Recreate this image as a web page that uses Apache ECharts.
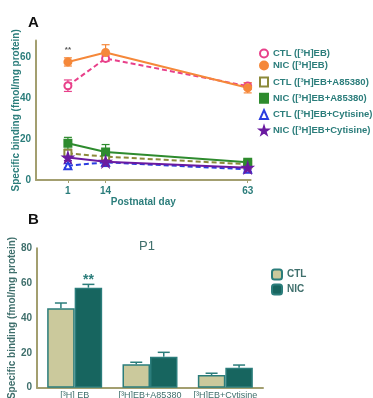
<!DOCTYPE html>
<html>
<head>
<meta charset="utf-8">
<script src="https://cdn.jsdelivr.net/npm/echarts@6/dist/echarts.min.js"></script>
<style>
  html, body { margin: 0; padding: 0; background: #fff; }
  #chart { width: 373px; height: 398px; }
</style>
</head>
<body>
<div id="chart"></div>
<script>
// panel A: binding by postnatal day
var days = [1, 14, 63];
var ctlEB = [46, 59.3, 45.8];
var ctlEBErr = [2.8, 1.5, 1.5];
var nicEB = [57.6, 62.2, 45];
var nicEBErr = [2, 3.8, 2.5];
var ctlA85 = [13, 11.4, 7.7];
var ctlA85Err = [1.5, 1.5, 1];
var nicA85 = [17.9, 13.7, 8.6];
var nicA85Err = [2.9, 3.6, 1];
var ctlCyt = [7, 8.6, 5.2];
var ctlCytErr = [1, 2, 1];
var nicCyt = [11, 8.9, 6];
var nicCytErr = [1.5, 2, 1];

// panel B: P1 bars
var groups = ['[³H] EB', '[³H]EB+A85380', '[³H]EB+Cytisine'];
var ctlP1 = [45.6, 13.4, 7.3];
var ctlP1Err = [3, 1.2, 1];
var nicP1 = [57.4, 17.8, 11.5];
var nicP1Err = [1.9, 2.5, 1.5];

var teal = '#2b7d7b';
var axisCol = '#a39f70';
var star = 'path://M50,0 L61,35 L98,35 L68,57 L79,91 L50,70 L21,91 L32,57 L2,35 L39,35 Z';

function pairs(xs, ys, es) {
    var out = [];
    for (var i = 0; i < xs.length; i++) out.push([xs[i], ys[i], es[i]]);
    return out;
}

function errA(color) {
    return function (params, api) {
        var x = api.value(0), y = api.value(1), e = api.value(2);
        var hi = api.coord([x, y + e]), lo = api.coord([x, y - e]);
        var st = { stroke: color, lineWidth: 1.2 };
        return {
            type: 'group', children: [
                { type: 'line', shape: { x1: hi[0], y1: hi[1], x2: lo[0], y2: lo[1] }, style: st },
                { type: 'line', shape: { x1: hi[0] - 4, y1: hi[1], x2: hi[0] + 4, y2: hi[1] }, style: st },
                { type: 'line', shape: { x1: lo[0] - 4, y1: lo[1], x2: lo[0] + 4, y2: lo[1] }, style: st }
            ]
        };
    };
}

function errB(side) {
    return function (params, api) {
        var i = api.value(0), y = api.value(1), e = api.value(2);
        var band = api.size([1, 0])[0];
        var off = side * band * 0.365 / 2;
        var top = api.coord([i, y + e]), base = api.coord([i, y]);
        var cx = top[0] + off;
        var st = { stroke: teal, lineWidth: 1.5 };
        return {
            type: 'group', children: [
                { type: 'line', shape: { x1: cx, y1: base[1], x2: cx, y2: top[1] }, style: st },
                { type: 'line', shape: { x1: cx - 6, y1: top[1], x2: cx + 6, y2: top[1] }, style: st }
            ]
        };
    };
}

function lineSeries(name, ys, color, symbol, dashed) {
    return {
        name: name, type: 'line', xAxisIndex: 0, yAxisIndex: 0,
        data: pairs(days, ys, ys),
        symbol: symbol, symbolSize: symbol === star ? 9 : 7,
        lineStyle: { color: color, width: 2, type: dashed ? [5, 3] : 'solid' },
        itemStyle: { color: color, borderColor: color, borderWidth: 2 },
        z: 3
    };
}

function errSeries(ys, es, color) {
    return {
        type: 'custom', xAxisIndex: 0, yAxisIndex: 0,
        data: pairs(days, ys, es), renderItem: errA(color), z: 2, silent: true
    };
}

var legendText = { color: teal, fontSize: 9.5, fontWeight: 'bold', fontFamily: 'Liberation Sans' };

var myChart = echarts.init(document.getElementById('chart'));

var nicEBSeries = lineSeries('NIC ([³H]EB)', nicEB, '#f5883a', 'circle', false);
nicEBSeries.data = nicEB.map(function (v, i) {
    var d = { value: [days[i], v] };
    if (i === 0) d.label = { show: true, position: 'top', distance: 4, formatter: '**', color: '#555', fontSize: 8, fontWeight: 'bold' };
    return d;
});

var nicP1Data = nicP1.map(function (v, i) {
    var d = { value: v };
    if (i === 0) d.label = { show: true, position: 'top', distance: 1, formatter: '**', color: teal, fontSize: 14, fontWeight: 'bold' };
    return d;
});

var option = {
    animation: false,
    textStyle: { fontFamily: 'Liberation Sans' },
    title: [
        { text: 'A', left: 23, top: 10, textStyle: { fontSize: 15, fontWeight: 'bold', color: '#111' } },
        { text: 'B', left: 23, top: 207, textStyle: { fontSize: 15, fontWeight: 'bold', color: '#111' } },
        { text: 'P1', left: 134, top: 235, textStyle: { fontSize: 13, fontWeight: 'normal', color: '#3f6f6c' } }
    ],
    legend: [
        {
            left: 259, top: 48.5, padding: 0, orient: 'vertical', itemGap: 2, itemWidth: 8, itemHeight: 8,
            textStyle: legendText,
            data: [
                { name: 'CTL ([³H]EB)', icon: 'emptyCircle' },
                { name: 'NIC ([³H]EB)', icon: 'circle' }
            ]
        },
        {
            left: 259, top: 76.5, padding: 0, orient: 'vertical', itemGap: 5.3, itemWidth: 8, itemHeight: 9,
            textStyle: legendText,
            data: [
                { name: 'CTL ([³H]EB+A85380)', icon: 'emptyRect' },
                { name: 'NIC ([³H]EB+A85380)', icon: 'rect' },
                { name: 'CTL ([³H]EB+Cytisine)', icon: 'emptyTriangle' },
                { name: 'NIC ([³H]EB+Cytisine)', icon: star }
            ]
        },
        {
            left: 271, top: 268.5, padding: 0, orient: 'vertical', itemGap: 3, itemWidth: 10, itemHeight: 10,
            textStyle: { color: '#3f6f6c', fontSize: 10, fontWeight: 'bold' },
            data: ['CTL', 'NIC']
        }
    ],
    grid: [
        { left: 36, top: 40.6, width: 214.6, height: 139.4, outerBoundsMode: 'none', containLabel: false },
        { left: 37, top: 248.3, width: 226, height: 139.4, outerBoundsMode: 'none', containLabel: false }
    ],
    xAxis: [
        {
            type: 'value', gridIndex: 0, min: -10, max: 64,
            name: 'Postnatal day', nameLocation: 'middle', nameGap: 17, nameMoveOverlap: false,
            nameTextStyle: { color: teal, fontSize: 10, fontWeight: 'bold' },
            axisLine: { onZero: false, lineStyle: { color: axisCol, width: 2 } },
            axisTick: { customValues: days, length: 3, lineStyle: { color: axisCol } },
            axisLabel: { customValues: days, color: teal, fontSize: 10, fontWeight: 'bold', margin: 6 },
            splitLine: { show: false }
        },
        {
            type: 'category', gridIndex: 1, data: groups,
            axisLine: { lineStyle: { color: axisCol, width: 2 } },
            axisTick: { show: false },
            axisLabel: { color: '#3f6f6c', fontSize: 9, margin: 3, interval: 0 }
        }
    ],
    yAxis: [
        {
            type: 'value', gridIndex: 0, min: 0, max: 68, interval: 20,
            name: 'Specific binding (fmol/mg protein)', nameLocation: 'middle', nameGap: 15, nameMoveOverlap: false,
            nameTextStyle: { color: teal, fontSize: 10, fontWeight: 'bold' },
            axisLine: { show: true, onZero: false, lineStyle: { color: axisCol, width: 2 } },
            axisTick: { show: false },
            axisLabel: { color: teal, fontSize: 10, fontWeight: 'bold', margin: 5, showMaxLabel: false },
            splitLine: { show: false }
        },
        {
            type: 'value', gridIndex: 1, min: 0, max: 80, interval: 20,
            name: 'Specific binding (fmol/mg protein)', nameLocation: 'middle', nameGap: 20, nameMoveOverlap: false,
            nameTextStyle: { color: '#3f6f6c', fontSize: 10, fontWeight: 'bold' },
            axisLine: { show: true, onZero: false, lineStyle: { color: axisCol, width: 2 } },
            axisTick: { show: false },
            axisLabel: { color: '#3f6f6c', fontSize: 10, fontWeight: 'bold', margin: 5 },
            splitLine: { show: false }
        }
    ],
    series: [
        errSeries(ctlEB, ctlEBErr, '#e8408a'),
        errSeries(nicEB, nicEBErr, '#f5883a'),
        errSeries(ctlA85, ctlA85Err, '#8c8a3a'),
        errSeries(nicA85, nicA85Err, '#2e8b2e'),
        errSeries(ctlCyt, ctlCytErr, '#2a3de0'),
        errSeries(nicCyt, nicCytErr, '#6a1aa0'),
        lineSeries('CTL ([³H]EB)', ctlEB, '#e8408a', 'emptyCircle', true),
        nicEBSeries,
        lineSeries('CTL ([³H]EB+A85380)', ctlA85, '#8c8a3a', 'emptyRect', true),
        lineSeries('NIC ([³H]EB+A85380)', nicA85, '#2e8b2e', 'rect', false),
        lineSeries('CTL ([³H]EB+Cytisine)', ctlCyt, '#2a3de0', 'emptyTriangle', true),
        lineSeries('NIC ([³H]EB+Cytisine)', nicCyt, '#6a1aa0', star, false),
        {
            name: 'CTL', type: 'bar', xAxisIndex: 1, yAxisIndex: 1, data: ctlP1,
            barWidth: '36.5%', barGap: '0%',
            itemStyle: { color: '#cbc99c', borderColor: teal, borderWidth: 1.5 }
        },
        {
            name: 'NIC', type: 'bar', xAxisIndex: 1, yAxisIndex: 1, data: nicP1Data,
            barWidth: '36.5%', barGap: '0%',
            itemStyle: { color: '#17655f', borderColor: teal, borderWidth: 1.5 }
        },
        {
            type: 'custom', xAxisIndex: 1, yAxisIndex: 1, silent: true, z: 1,
            data: ctlP1.map(function (v, i) { return [i, v, ctlP1Err[i]]; }),
            renderItem: errB(-1)
        },
        {
            type: 'custom', xAxisIndex: 1, yAxisIndex: 1, silent: true, z: 1,
            data: nicP1.map(function (v, i) { return [i, v, nicP1Err[i]]; }),
            renderItem: errB(1)
        }
    ]
};

myChart.setOption(option);
</script>
</body>
</html>
